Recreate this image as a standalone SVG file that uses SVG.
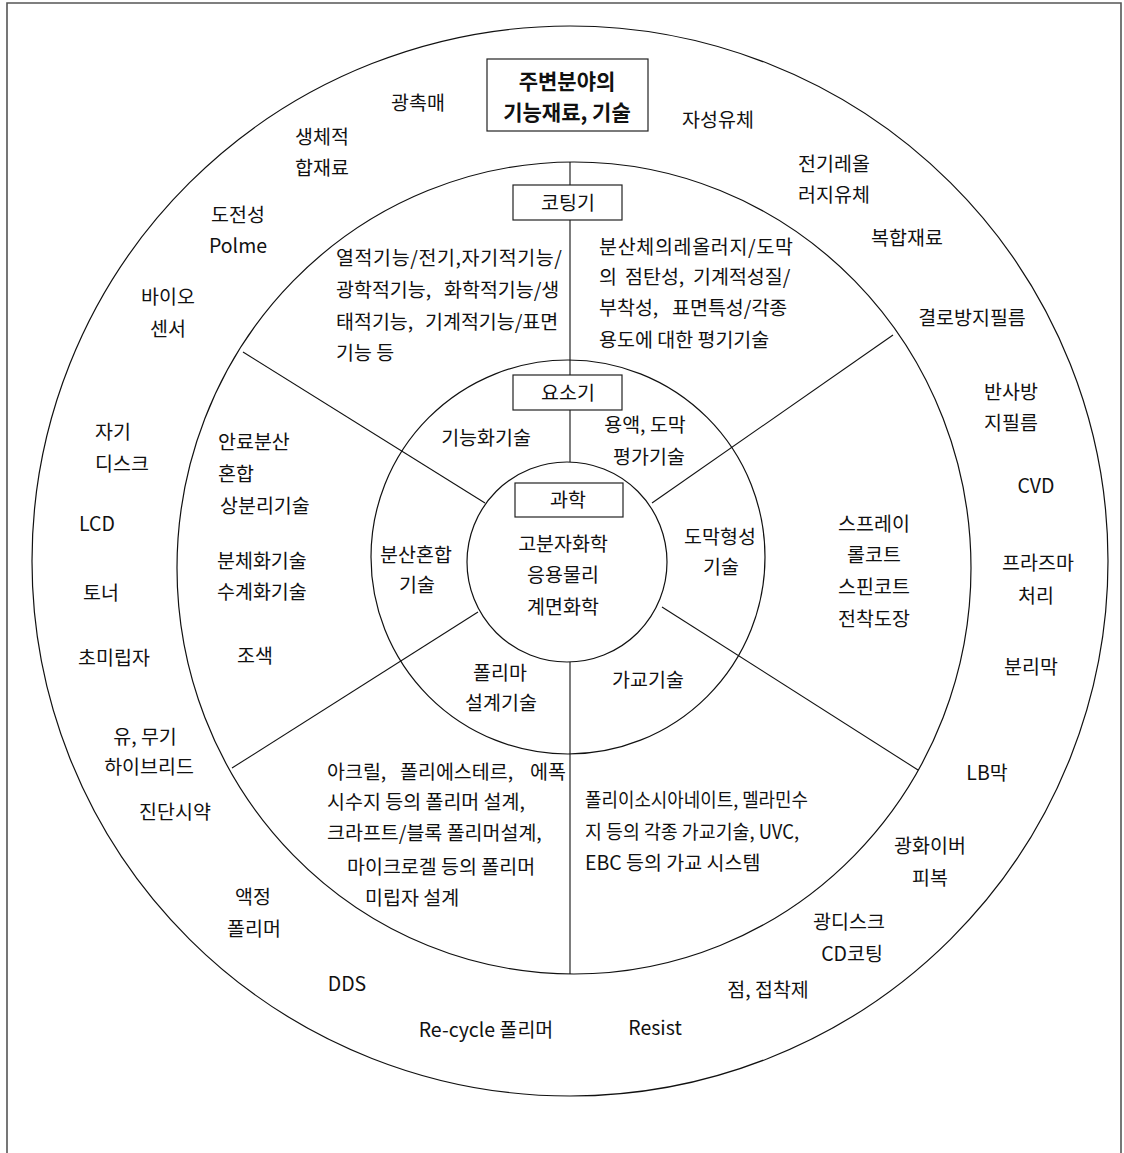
<svg xmlns="http://www.w3.org/2000/svg" width="1124" height="1153" viewBox="0 0 1124 1153">
<style>
.t{font-family:"Noto Sans CJK KR","Noto Sans",sans-serif;font-size:19.5px;fill:#111}
.m{text-anchor:middle}
.b{font-weight:bold;font-size:21px}
.ring{fill:none;stroke:#111;stroke-width:1.2}
.ln{stroke:#111;stroke-width:1.1;fill:none}
.box{fill:#fff;stroke:#222;stroke-width:1.2}
</style>
<rect width="1124" height="1153" fill="#fff"/>
<path d="M7,1153 V3 H1121 V1153" fill="none" stroke="#555" stroke-width="1.6"/>
<g id="rings">
<ellipse class="ring" cx="570" cy="561" rx="538" ry="535"/>
<ellipse class="ring" cx="574" cy="568" rx="397" ry="406"/>
<circle class="ring" cx="568" cy="557" r="197"/>
<circle class="ring" cx="567" cy="562" r="100"/>
</g>
<g id="connectors">
<line class="ln" x1="570" y1="162" x2="570" y2="462"/>
<line class="ln" x1="570" y1="662" x2="570" y2="974"/>
<line class="ln" x1="243" y1="352" x2="485" y2="503"/>
<line class="ln" x1="893" y1="335" x2="652" y2="503"/>
<line class="ln" x1="232" y1="768" x2="478" y2="612"/>
<line class="ln" x1="918" y1="770" x2="662" y2="607"/>
</g>
<g id="title">
<rect class="box" x="487" y="59" width="161" height="72"/>
<text class="t m b" x="567" y="89">주변분야의</text>
<text class="t m b" x="567" y="120">기능재료, 기술</text>
</g>
<g id="coating">
<rect class="box" x="513" y="185" width="109" height="35"/>
<text class="t m" x="568" y="210">코팅기</text>
</g>
<g id="element">
<rect class="box" x="513" y="375" width="109" height="35"/>
<text class="t m" x="568" y="400">요소기</text>
</g>
<g id="science">
<rect class="box" x="515" y="483" width="108" height="34"/>
<text class="t m" x="568" y="507">과학</text>
<text class="t m" x="563" y="551">고분자화학</text>
<text class="t m" x="563" y="582">응용물리</text>
<text class="t m" x="563" y="614">계면화학</text>
</g>
<g id="inner-ring">
<text class="t m" x="486" y="445">기능화기술</text>
<text class="t m" x="645" y="432">용액, 도막</text>
<text class="t m" x="649" y="464">평가기술</text>
<text class="t m" x="720" y="544">도막형성</text>
<text class="t m" x="721" y="574">기술</text>
<text class="t m" x="416" y="562">분산혼합</text>
<text class="t m" x="417" y="592">기술</text>
<text class="t m" x="500" y="680">폴리마</text>
<text class="t m" x="501" y="710">설계기술</text>
<text class="t m" x="648" y="687">가교기술</text>
</g>
<g id="middle-ring">
<text class="t" x="336" y="265" textLength="226" lengthAdjust="spacing">열적기능/전기,자기적기능/</text>
<text class="t" x="336" y="297"><tspan x="336">광학적기능,</tspan><tspan x="444">화학적기능/생</tspan></text>
<text class="t" x="336" y="329"><tspan x="336">태적기능,</tspan><tspan x="425">기계적기능/표면</tspan></text>
<text class="t" x="336" y="360">기능 등</text>
<text class="t" x="599" y="254" textLength="194" lengthAdjust="spacing">분산체의레올러지/도막</text>
<text class="t" x="599" y="284"><tspan x="599">의</tspan><tspan x="625">점탄성,</tspan><tspan x="693">기계적성질/</tspan></text>
<text class="t" x="599" y="315"><tspan x="599">부착성,</tspan><tspan x="672">표면특성/각종</tspan></text>
<text class="t" x="599" y="347">용도에 대한 평기기술</text>
<text class="t" x="218" y="449">안료분산</text>
<text class="t" x="218" y="481">혼합</text>
<text class="t" x="220" y="513">상분리기술</text>
<text class="t" x="217" y="568">분체화기술</text>
<text class="t" x="217" y="599">수계화기술</text>
<text class="t m" x="255" y="663">조색</text>
<text class="t m" x="874" y="531">스프레이</text>
<text class="t m" x="874" y="562">롤코트</text>
<text class="t m" x="874" y="594">스핀코트</text>
<text class="t m" x="874" y="626">전착도장</text>
<text class="t" x="327" y="779"><tspan x="327">아크릴,</tspan><tspan x="400">폴리에스테르,</tspan><tspan x="530">에폭</tspan></text>
<text class="t" x="327" y="809">시수지 등의 폴리머 설계,</text>
<text class="t" x="327" y="840">크라프트/블록 폴리머설계,</text>
<text class="t" x="347" y="874">마이크로겔 등의 폴리머</text>
<text class="t" x="365" y="905">미립자 설계</text>
<text class="t" x="585" y="807" textLength="223" lengthAdjust="spacingAndGlyphs">폴리이소시아네이트, 멜라민수</text>
<text class="t" x="585" y="839" textLength="214" lengthAdjust="spacingAndGlyphs">지 등의 각종 가교기술, UVC,</text>
<text class="t" x="585" y="870">EBC 등의 가교 시스템</text>
</g>
<g id="outer-ring">
<text class="t m" x="418" y="110">광촉매</text>
<text class="t m" x="718" y="127">자성유체</text>
<text class="t m" x="322" y="144">생체적</text>
<text class="t m" x="322" y="175">합재료</text>
<text class="t m" x="834" y="171">전기레올</text>
<text class="t m" x="834" y="202">러지유체</text>
<text class="t m" x="238" y="222">도전성</text>
<text class="t m" x="238" y="253">Polme</text>
<text class="t m" x="907" y="245">복합재료</text>
<text class="t m" x="168" y="304">바이오</text>
<text class="t m" x="168" y="336">센서</text>
<text class="t m" x="972" y="325">결로방지필름</text>
<text class="t m" x="1011" y="399">반사방</text>
<text class="t m" x="1011" y="430">지필름</text>
<text class="t" x="95" y="439">자기</text>
<text class="t" x="95" y="471">디스크</text>
<text class="t m" x="1036" y="493">CVD</text>
<text class="t m" x="97" y="531">LCD</text>
<text class="t m" x="1038" y="570">프라즈마</text>
<text class="t m" x="1036" y="603">처리</text>
<text class="t m" x="101" y="600">토너</text>
<text class="t m" x="114" y="665">초미립자</text>
<text class="t m" x="1031" y="674">분리막</text>
<text class="t m" x="145" y="744">유, 무기</text>
<text class="t m" x="149" y="774">하이브리드</text>
<text class="t m" x="987" y="780">LB막</text>
<text class="t m" x="175" y="819">진단시약</text>
<text class="t m" x="930" y="853">광화이버</text>
<text class="t m" x="930" y="885">피복</text>
<text class="t m" x="253" y="904">액정</text>
<text class="t m" x="254" y="936">폴리머</text>
<text class="t m" x="849" y="929">광디스크</text>
<text class="t m" x="852" y="961">CD코팅</text>
<text class="t m" x="347" y="991">DDS</text>
<text class="t m" x="768" y="997">점, 접착제</text>
<text class="t m" x="486" y="1037">Re-cycle 폴리머</text>
<text class="t m" x="655" y="1035">Resist</text>
</g>
</svg>
